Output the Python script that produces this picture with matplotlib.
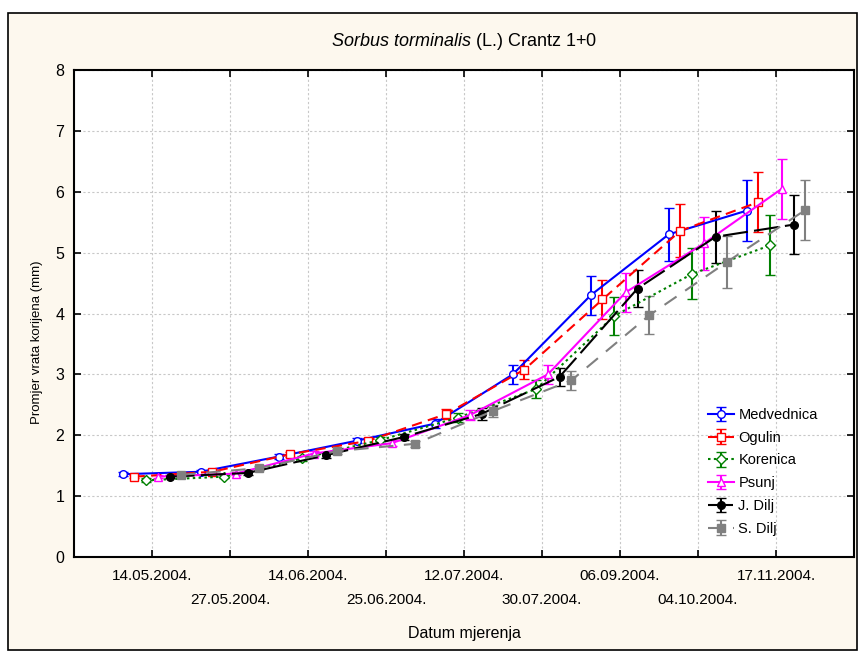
import matplotlib
matplotlib.use("Agg")
import matplotlib.pyplot as plt
from matplotlib.patches import Rectangle
import numpy as np

plt.rcParams['font.family'] = ['Liberation Sans', 'DejaVu Sans']
plt.rcParams['mathtext.fontset'] = 'custom'
plt.rcParams['mathtext.rm'] = 'Liberation Sans'
plt.rcParams['mathtext.it'] = 'Liberation Sans:italic'

# datumi mjerenja
dates = ['14.05.2004.', '27.05.2004.', '14.06.2004.', '25.06.2004.', '12.07.2004.',
         '30.07.2004.', '06.09.2004.', '04.10.2004.', '17.11.2004.']

# srednje vrijednosti (mm)
medvednica = [1.36, 1.40, 1.65, 1.91, 2.19, 3.00, 4.30, 5.30, 5.69]
ogulin = [1.32, 1.40, 1.69, 1.91, 2.35, 3.08, 4.23, 5.36, 5.83]
korenica = [1.26, 1.32, 1.62, 1.92, 2.29, 2.76, 3.96, 4.65, 5.12]
psunj = [1.32, 1.37, 1.70, 1.87, 2.33, 3.00, 4.35, 5.15, 6.05]
j_dilj = [1.32, 1.38, 1.67, 1.97, 2.35, 2.96, 4.41, 5.26, 5.46]
s_dilj = [1.35, 1.46, 1.74, 1.86, 2.40, 2.90, 3.97, 4.85, 5.70]

# intervali pogreske
medvednica_err = [0.03, 0.03, 0.04, 0.04, 0.07, 0.15, 0.32, 0.44, 0.50]
ogulin_err = [0.03, 0.03, 0.04, 0.04, 0.08, 0.15, 0.32, 0.44, 0.49]
korenica_err = [0.03, 0.03, 0.04, 0.05, 0.08, 0.15, 0.31, 0.42, 0.49]
psunj_err = [0.03, 0.03, 0.04, 0.05, 0.08, 0.15, 0.32, 0.43, 0.49]
j_dilj_err = [0.03, 0.03, 0.04, 0.05, 0.10, 0.15, 0.31, 0.43, 0.49]
s_dilj_err = [0.03, 0.03, 0.04, 0.05, 0.10, 0.15, 0.31, 0.43, 0.50]

series = [
    ('Medvednica', medvednica, medvednica_err, '#0000ff', 'o', 'white', '-'),
    ('Ogulin', ogulin, ogulin_err, '#ff0000', 's', 'white', (0, (5, 3))),
    ('Korenica', korenica, korenica_err, '#008000', 'D', 'white', (0, (1.2, 1.6))),
    ('Psunj', psunj, psunj_err, '#ff00ff', '^', 'white', '-'),
    ('J. Dilj', j_dilj, j_dilj_err, '#000000', 'o', '#000000', (0, (12, 3))),
    ('S. Dilj', s_dilj, s_dilj_err, '#808080', 's', '#808080', (0, (7, 5))),
]

fig = plt.figure(figsize=(8.59, 6.51), dpi=100)
fig.patch.set_facecolor('white')
fig.patches.append(Rectangle((8 / 859, 1 / 651), 849 / 859, 637 / 651,
                             transform=fig.transFigure, facecolor='#fdf8ee',
                             edgecolor='black', linewidth=1.2, zorder=-10))
ax = fig.add_axes([74 / 859, 94 / 651, 780 / 859, 487 / 651])
ax.set_facecolor('white')

x = np.arange(1, len(dates) + 1)
offsets = np.linspace(-0.375, 0.375, len(series))

handles = []
for (name, vals, errs, col, mk, fc, ls), off in zip(series, offsets):
    ms = 5.5 if mk != 'D' else 4.8
    h = ax.errorbar(x + off, vals, yerr=errs, color=col, ecolor=col, linestyle=ls,
                    linewidth=1.5, elinewidth=1.5, capsize=3.5, capthick=1.5,
                    marker=mk, markersize=ms, markerfacecolor=fc,
                    markeredgecolor=col, markeredgewidth=1.0, label=name)
    handles.append(h)

ax.set_xlim(0, 10)
ax.set_ylim(0, 8)
ax.set_xticks(x)
ax.set_xticklabels([d if i % 2 == 0 else '\n' + d for i, d in enumerate(dates)],
                   linespacing=1.9)
ax.set_yticks(range(0, 9))
ax.tick_params(axis='both', direction='in', length=5, width=1.2, labelsize=11,
               top=True, right=True)
ax.tick_params(axis='y', labelsize=11.5, pad=7)
ax.tick_params(axis='x', pad=9)
ax.grid(True, color='#c8c8c8', linestyle=(0, (2, 2)), linewidth=0.8)
ax.set_axisbelow(True)
for sp in ax.spines.values():
    sp.set_linewidth(1.5)

ax.set_title(r'$\it{Sorbus\ torminalis}$ (L.) Crantz 1+0', fontsize=13, pad=17)
ax.set_ylabel('Promjer vrata korijena (mm)', fontsize=9.5)
ax.yaxis.set_label_coords(-0.04, 0.44)
ax.set_xlabel('Datum mjerenja', fontsize=11.5)
ax.xaxis.set_label_coords(0.5, -0.141)

ax.legend(handles=handles, loc='upper left', bbox_to_anchor=(0.805, 0.318),
          frameon=False, fontsize=10.5, handlelength=1.8, handletextpad=0.3,
          labelspacing=0.6, borderaxespad=0)

fig.savefig('out.png', dpi=100, facecolor=fig.get_facecolor())
